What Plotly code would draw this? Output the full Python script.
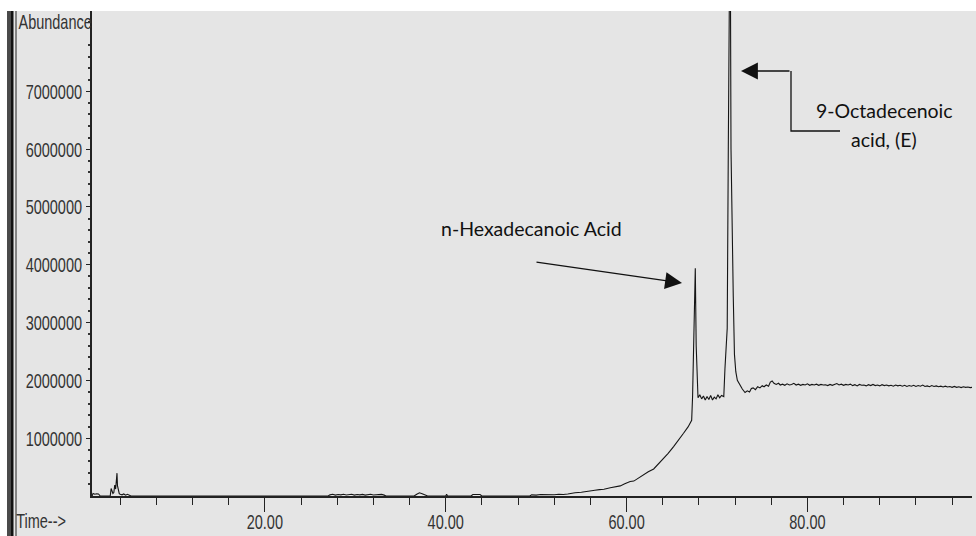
import plotly.graph_objects as go

# ---------------- data ----------------
time_early = [0.9, 1.0, 1.2, 1.4, 1.6, 1.8, 2.0, 2.5, 2.9, 3.0, 3.1, 3.2, 3.3, 3.4, 3.5, 3.6, 3.65,
              3.7, 3.8, 3.9, 4.0, 4.2, 4.4, 4.6, 4.8, 5.0, 5.2, 6.0, 10.0, 15.0, 20.0, 25.0, 27.0]
abund_early = [0, 45000, 30000, 40000, 35000, 0, 0, 0, 0, 130000, 90000, 45000, 60000, 190000, 120000,
               250000, 395000, 180000, 100000, 40000, 30000, 20000, 35000, 15000, 30000, 20000, 0,
               0, 0, 0, 0, 0, 0]

time_mid = [27.2, 27.5, 27.8, 28.1, 28.4, 28.7, 29.0, 29.3, 29.6, 29.9, 30.2, 30.5, 30.8, 31.1, 31.4,
            31.7, 32.0, 32.3, 32.6, 32.9, 33.2, 33.4, 34.0, 36.5, 36.8, 37.1, 37.4, 37.7, 38.0,
            40.0, 40.1, 40.2, 42.8, 43.0, 43.4, 43.8, 44.0, 49.3]
abund_mid = [20000, 30000, 15000, 25000, 20000, 30000, 18000, 25000, 30000, 15000, 25000, 20000, 28000,
             15000, 22000, 30000, 18000, 25000, 20000, 28000, 15000, 0, 0, 0, 30000, 55000, 40000,
             20000, 0, 0, 30000, 0, 0, 25000, 30000, 25000, 0, 0]

time_rise = [49.5, 50.0, 50.5, 51.0, 51.5, 52.0, 52.5, 53.0, 53.5, 53.8, 54.0, 54.3, 55.0, 55.5, 56.0,
             56.5, 57.0, 57.5, 58.2, 58.7, 59.3, 59.8, 60.4, 60.8, 61.1, 61.5, 62.0, 62.4, 63.0, 63.5,
             64.1, 64.6, 65.2, 65.7, 66.3, 66.8, 67.2]
abund_rise = [20000, 15000, 25000, 20000, 28000, 22000, 30000, 25000, 35000, 45000, 60000, 57000, 65000,
              72000, 85000, 98000, 110000, 118000, 144000, 158000, 175000, 212000, 250000, 258000,
              290000, 318000, 372000, 420000, 468000, 548000, 650000, 738000, 855000, 952000,
              1085000, 1195000, 1310000]

time_peaks = [67.3, 67.42, 67.52, 67.6, 67.7, 67.8, 67.9, 68.1, 68.3, 68.5, 68.7, 68.9, 69.1, 69.3,
              69.5, 69.7, 69.9, 70.1, 70.3, 70.5, 70.75, 70.88, 71.02, 71.13, 71.25, 71.33, 71.45,
              71.55, 71.68, 71.8, 71.93, 72.08, 72.25, 72.5, 72.8, 73.1, 73.35, 73.6, 73.8, 74.0, 74.25,
              74.5, 74.75, 75.0, 75.2, 75.45, 75.7, 75.9, 76.1, 76.3, 76.55, 76.8, 77.0]
abund_peaks = [1720000, 2900000, 3100000, 3940000, 2600000, 1850000, 1700000, 1750000, 1680000, 1730000,
               1660000, 1720000, 1670000, 1740000, 1660000, 1710000, 1680000, 1750000, 1700000,
               1740000, 1720000, 2200000, 2750000, 2900000, 6000000, 7150000, 10500000, 6000000,
               4200000, 3450000, 2450000, 2150000, 2000000, 1920000, 1850000, 1790000, 1820000, 1800000,
               1860000, 1870000, 1840000, 1890000, 1870000, 1910000, 1890000, 1920000, 1900000,
               1970000, 1990000, 1950000, 1930000, 1950000, 1920000]

time_tail = [77.25 + 0.25 * i for i in range(84)] + [98.2]
abund_tail_m = [1.935, 1.915, 1.94, 1.92, 1.93, 1.95, 1.92, 1.935, 1.915, 1.93, 1.92, 1.94, 1.915, 1.93,
                1.92, 1.935, 1.915, 1.93, 1.92, 1.925, 1.91, 1.93, 1.915, 1.925, 1.945, 1.92, 1.935,
                1.915, 1.93, 1.92, 1.935, 1.91, 1.925, 1.905, 1.93, 1.915, 1.92, 1.905, 1.925, 1.91,
                1.93, 1.91, 1.92, 1.905, 1.925, 1.91, 1.92, 1.905, 1.915, 1.9, 1.92, 1.905, 1.915,
                1.9, 1.915, 1.895, 1.91, 1.9, 1.915, 1.895, 1.91, 1.9, 1.92, 1.895, 1.905, 1.89,
                1.91, 1.895, 1.905, 1.89, 1.9, 1.885, 1.9, 1.885, 1.895, 1.88, 1.895, 1.88, 1.89,
                1.875, 1.89, 1.88, 1.885, 1.875, 1.88]
abund_tail = [v * 1e6 for v in abund_tail_m]

retention_time = time_early + time_mid + time_rise + time_peaks + time_tail
abundance = abund_early + abund_mid + abund_rise + abund_peaks + abund_tail

x_major = [20, 40, 60, 80]
x_major_text = ["20.00", "40.00", "60.00", "80.00"]
x_minor = [v for v in range(4, 97, 4) if v not in x_major]
y_major = [1000000, 2000000, 3000000, 4000000, 5000000, 6000000, 7000000]
y_major_text = ["1000000", "2000000", "3000000", "4000000", "5000000", "6000000", "7000000"]
y_minor = [200000 * i for i in range(1, 42) if (200000 * i) % 1000000 != 0]

label_peak1 = "n-Hexadecanoic Acid"
label_peak2_a = "9-Octadecenoic"
label_peak2_b = "acid, (E)"

# ---------------- layout geometry ----------------
W, H = 976, 536
L, R, T, B = 92, 972, 11, 496
X0, X1 = 0.885, 98.2
Y0, Y1 = 0, 8.39e6

def dx(px):
    return X0 + (px - L) / (R - L) * (X1 - X0)

def dy(py):
    return Y0 + (B - py) / (B - T) * (Y1 - Y0)

def px_(px):
    return (px - L) / (R - L)

def py_(py):
    return (B - py) / (B - T)

GRAY = "#e5e5e5"
INK = "#151515"
TICKFONT = dict(family="Liberation Sans, Arial, sans-serif", size=21, color="#333333")
ANNFONT = dict(family="Lato, Carlito, Calibri, sans-serif", size=19.5, color="#111111")

fig = go.Figure()
fig.add_trace(go.Scatter(x=retention_time, y=abundance, mode="lines",
                         line=dict(color=INK, width=1.1), hoverinfo="skip", showlegend=False))

fig.update_layout(
    width=W, height=H,
    margin=dict(l=L, r=W - R, t=T, b=H - B),
    paper_bgcolor=GRAY, plot_bgcolor=GRAY,
    showlegend=False,
    xaxis=dict(range=[X0, X1], showgrid=False, zeroline=False, showline=True, automargin=False,
               linecolor="#222222", linewidth=2,
               tickmode="array", tickvals=x_major, ticktext=x_major_text,
               ticks="outside", ticklen=14, tickwidth=1, tickcolor="#222222",
               ticklabelstandoff=-8,
               tickfont=TICKFONT,
               minor=dict(tickmode="array", tickvals=x_minor, ticks="outside", ticklen=7,
                          tickwidth=1, tickcolor="#222222")),
    yaxis=dict(range=[Y0, Y1], showgrid=False, zeroline=False, showline=True, automargin=False,
               linecolor="#222222", linewidth=1.5,
               tickmode="array", tickvals=y_major, ticktext=y_major_text,
               ticks="outside", ticklen=4, tickwidth=1, tickcolor="#222222",
               tickfont=TICKFONT,
               minor=dict(tickmode="array", tickvals=y_minor, ticks="outside", ticklen=2,
                          tickwidth=1.5, tickcolor="#333333")),
)

shapes = [
    dict(type="rect", xref="paper", yref="paper", x0=px_(-5), x1=px_(W + 5), y0=py_(T), y1=py_(-5),
         fillcolor="white", line=dict(width=0), layer="above"),
    dict(type="rect", xref="paper", yref="paper", x0=px_(-5), x1=px_(7), y0=py_(H + 5), y1=py_(T),
         fillcolor="white", line=dict(width=0), layer="above"),
    dict(type="rect", xref="paper", yref="paper", x0=px_(7), x1=px_(11), y0=py_(H + 5), y1=py_(T),
         fillcolor="#4a4a4a", line=dict(width=0), layer="above"),
    dict(type="rect", xref="paper", yref="paper", x0=px_(11), x1=px_(13.5), y0=py_(H + 5), y1=py_(T),
         fillcolor="#111111", line=dict(width=0), layer="above"),
    dict(type="line", xref="paper", yref="paper", x0=px_(16), x1=px_(16), y0=py_(H + 5), y1=py_(T),
         line=dict(color="#222222", width=1), layer="above"),
    dict(type="path", xref="x", yref="y",
         path=f"M {dx(840)},{dy(131)} L {dx(791)},{dy(131)} L {dx(791)},{dy(71)}",
         line=dict(color="#111111", width=1.3)),
]
fig.update_layout(shapes=shapes)

annotations = [
    dict(xref="paper", yref="paper", x=px_(55), y=py_(21), text="Abundance", showarrow=False,
         xanchor="center", yanchor="middle", font=TICKFONT),
    dict(xref="paper", yref="paper", x=px_(41), y=py_(520), text="Time-->", showarrow=False,
         xanchor="center", yanchor="middle", font=TICKFONT),
    dict(xref="x", yref="y", x=dx(531), y=dy(228), text=label_peak1, showarrow=False,
         xanchor="center", yanchor="middle", font=ANNFONT),
    dict(xref="x", yref="y", x=dx(884), y=dy(110), text=label_peak2_a, showarrow=False,
         xanchor="center", yanchor="middle", font=ANNFONT),
    dict(xref="x", yref="y", x=dx(884), y=dy(139), text=label_peak2_b, showarrow=False,
         xanchor="center", yanchor="middle", font=ANNFONT),
    dict(xref="x", yref="y", x=dx(682), y=dy(283), ax=535 - 682, ay=262 - 283, text="",
         showarrow=True, arrowhead=2, arrowsize=2.6, arrowwidth=1.3, arrowcolor="#111111",
         standoff=0, startstandoff=0),
    dict(xref="x", yref="y", x=dx(741), y=dy(71), ax=791 - 741, ay=0, text="",
         showarrow=True, arrowhead=2, arrowsize=2.6, arrowwidth=1.3, arrowcolor="#111111",
         standoff=0, startstandoff=0),
]
fig.update_layout(annotations=annotations)

# narrow the instrument-style labels (the original uses a condensed screen font)
squeeze_js = """
var gd = document.getElementById('{plot_id}');
function narrow(t, f) {
  if (!t.dataset.w0) { t.dataset.w0 = t.getComputedTextLength(); }
  t.setAttribute('textLength', (parseFloat(t.dataset.w0) * f).toFixed(2));
  t.setAttribute('lengthAdjust', 'spacingAndGlyphs');
}
function squeeze() {
  gd.querySelectorAll('.xtick text, .ytick text').forEach(function (t) { narrow(t, 0.69); });
  gd.querySelectorAll('.annotation-text').forEach(function (t) {
    var s = t.textContent;
    if (s === 'Abundance' || s === 'Time-->') { narrow(t, 0.69); }
  });
}
gd.on('plotly_afterplot', squeeze);
squeeze();
"""

fig.write_html("out.html", post_script=squeeze_js)
